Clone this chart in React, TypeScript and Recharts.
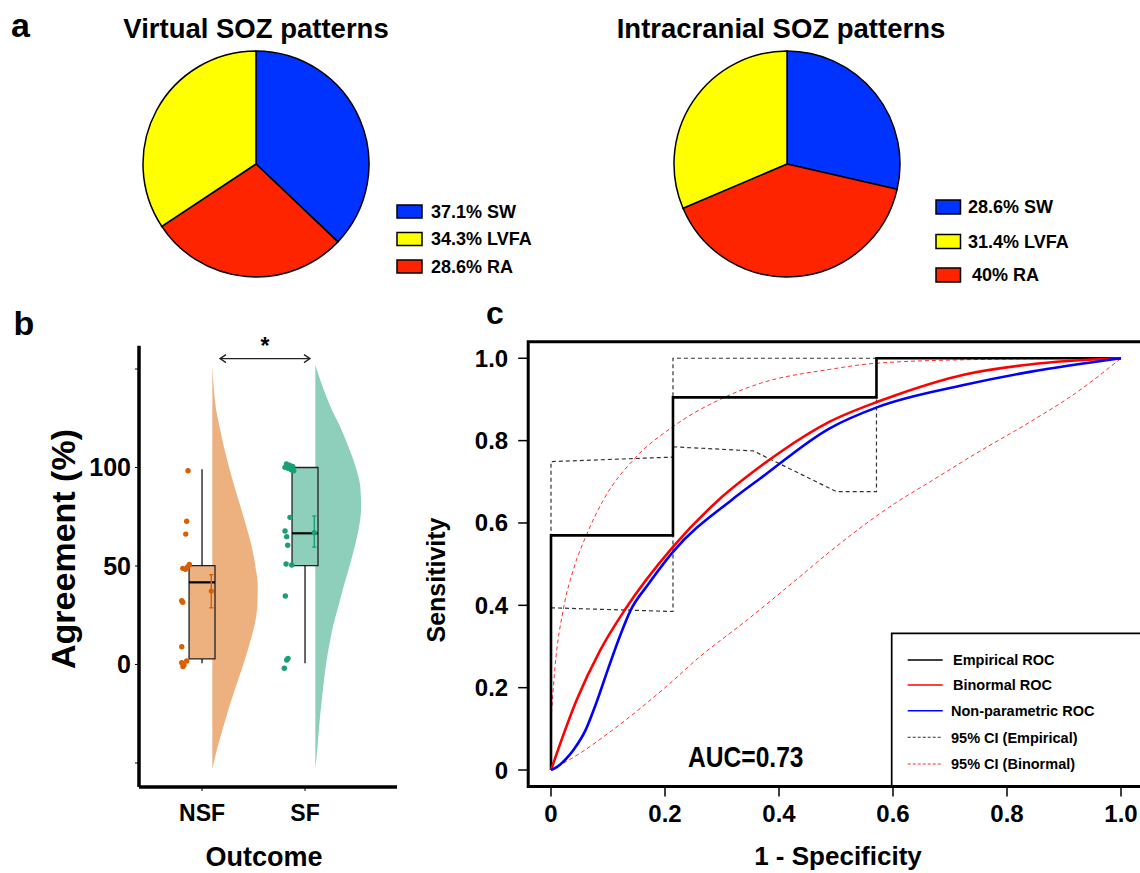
import React from "react";
import {
  PieChart,
  Pie,
  Cell,
  ComposedChart,
  Area,
  Scatter,
  XAxis,
  YAxis,
  ReferenceArea,
  ReferenceLine,
  ReferenceDot,
  LineChart,
  Line,
} from "recharts";

const FONT = "'Liberation Sans', Arial, Helvetica, sans-serif";

// ---------- panel a : SOZ pattern shares (%)
const patternNames = ["SW", "LVFA", "RA"];
const patternColors = ["#0033FF", "#FFFF00", "#FF2400"];
const virtualShares = [37.1, 34.3, 28.6];
const intracranialShares = [28.6, 31.4, 40];
const virtualLabels = ["37.1% SW", "34.3% LVFA", "28.6% RA"];
const intracranialLabels = ["28.6% SW", "31.4% LVFA", "40% RA"];
// clockwise from 12 o'clock: SW, RA, LVFA
const sliceOrder = [0, 2, 1];

// ---------- panel b : agreement (%) by outcome
const outcomeGroups = ["NSF", "SF"];
const nsfAgreement = [98.4, 72.7, 66.2, 50.8, 49.5, 48.8, 48.3, 32.4, 31.6, 9.0, 1.8, 0.9, -0.3, -1.0];
const nsfJitter = [-0.136, -0.149, -0.158, -0.123, -0.14, -0.187, -0.16, -0.197, -0.187, -0.197, -0.149, -0.197, -0.175, -0.185];
const sfAgreement = [101.8, 101.2, 100.6, 100.1, 99.6, 98.9, 98.4, 74.7, 67.8, 64.9, 60.5, 51, 50.5, 34.8, 3.1, 2.3, -1.9];
const sfJitter = [-0.18, -0.15, -0.12, -0.195, -0.165, -0.135, -0.11, -0.146, -0.194, -0.178, -0.168, -0.184, -0.129, -0.191, -0.165, -0.178, -0.201];

const boxMin = [0.6, 0.6];
const boxQ1 = [2.8, 50.2];
const boxMedian = [41.7, 66.6];
const boxQ3 = [50.2, 100];
const boxMax = [99.1, 100];
const groupMean = [37.3, 66.9];
const meanLow = [28.8, 59.6];
const meanHigh = [45.6, 75.4];

// half-violin density profile
const violinLevels = [152, 140, 130, 120, 110, 100, 90, 80, 70, 60, 50, 40, 30, 20, 10, 0, -10, -20, -30, -40, -53];
const nsfDensity = [0, 1.5, 3.6, 7.5, 11.8, 16.8, 22.3, 28.3, 34, 39.3, 43, 45.4, 45, 42.2, 37, 31, 24.3, 17.8, 12, 6.3, 0];
const sfDensity = [0, 8, 16, 25.5, 33.5, 40.5, 45, 45.8, 43.8, 39.5, 34.3, 28.5, 23.3, 18, 14, 10.7, 8.2, 6, 4.1, 2.5, 0];

const groupColors = ["#D95F02", "#1B9E77"];
const groupFills = ["#EDB07F", "#8DCFBA"];

// ---------- panel c : ROC curves  [1 - specificity, sensitivity]
const empiricalRoc = [[0, 0], [0, 0.57], [0.214, 0.57], [0.214, 0.905], [0.571, 0.905], [0.571, 1], [1, 1]];
const binormalRoc = [[0, 0], [0.045, 0.17], [0.086, 0.29], [0.13, 0.39], [0.214, 0.542], [0.294, 0.656], [0.367, 0.737], [0.4, 0.77], [0.489, 0.846], [0.574, 0.895], [0.606, 0.911], [0.724, 0.96], [0.84, 0.985], [1, 1]];
const nonParamRoc = [[0, 0], [0.01, 0.007], [0.025, 0.025], [0.04, 0.05], [0.06, 0.095], [0.08, 0.165], [0.1, 0.245], [0.12, 0.322], [0.14, 0.389], [0.17, 0.45], [0.214, 0.53], [0.317, 0.656], [0.367, 0.708], [0.489, 0.83], [0.574, 0.882], [0.724, 0.935], [0.84, 0.967], [1, 1]];
const ciEmpiricalLower = [[0, 0.394], [0.214, 0.385], [0.214, 0.785], [0.355, 0.775], [0.501, 0.676], [0.571, 0.676], [0.571, 1], [1, 1]];
const ciEmpiricalUpper = [[0, 0.394], [0, 0.749], [0.214, 0.76], [0.214, 1], [1, 1]];
const ciBinormalUpper = [[0, 0.121], [0.007, 0.25], [0.0216, 0.39], [0.04, 0.49], [0.0626, 0.572], [0.092, 0.656], [0.147, 0.757], [0.214, 0.834], [0.304, 0.905], [0.367, 0.939], [0.489, 0.973], [0.571, 0.988], [0.75, 0.997], [1, 1]];
const ciBinormalLower = [[0, 0], [0.05, 0.04], [0.106, 0.095], [0.2, 0.2], [0.261, 0.275], [0.34, 0.36], [0.437, 0.47], [0.489, 0.53], [0.606, 0.65], [0.665, 0.7], [0.747, 0.77], [0.84, 0.845], [0.92, 0.915], [1, 1]];
const rocTicks = [0, 0.2, 0.4, 0.6, 0.8, 1.0];
const rocLegend = ["Empirical ROC", "Binormal ROC", "Non-parametric ROC", "95% CI (Empirical)", "95% CI (Binormal)"];
const rocLegendColors = ["#000000", "#FF0000", "#0000FF", "#333333", "#FF3030"];
const aucText = "AUC=0.73";

const toPts = (arr: number[][]) => arr.map(([x, y]) => ({ x, y }));

const SozPie = ({ shares, cx, cy }: { shares: number[]; cx: number; cy: number }) => (
  <div style={{ position: "absolute", left: cx - 116, top: cy - 116 }}>
    <PieChart width={232} height={232} margin={{ top: 0, right: 0, bottom: 0, left: 0 }}>
      <Pie
        data={sliceOrder.map((i) => ({ name: patternNames[i], value: shares[i] }))}
        dataKey="value"
        cx="50%"
        cy="50%"
        outerRadius={113}
        startAngle={90}
        endAngle={-270}
        stroke="#000"
        strokeWidth={1.5}
        isAnimationActive={false}
      >
        {sliceOrder.map((i) => (
          <Cell key={i} fill={patternColors[i]} />
        ))}
      </Pie>
    </PieChart>
  </div>
);

const AgreementPanel = () => {
  const densityToX = 1 / 103;
  const violinGap = 0.1;
  const boxHalf = 0.126;
  const meanShift = 0.09;
  const cap = 0.02;
  const violinRows = violinLevels.map((v, i) => ({
    v,
    nsf: 1 + violinGap + nsfDensity[i] * densityToX,
    sf: 2 + violinGap + sfDensity[i] * densityToX,
  }));
  const dots = [
    nsfAgreement.map((v, i) => ({ x: 1 + nsfJitter[i], v })),
    sfAgreement.map((v, i) => ({ x: 2 + sfJitter[i], v })),
  ];
  const tickStyle = { fill: "#000", fontSize: 25, fontWeight: 700, fontFamily: FONT };
  return (
    <div style={{ position: "absolute", left: 0, top: 300 }}>
      <ComposedChart
        layout="vertical"
        width={420}
        height={573}
        data={violinRows}
        margin={{ top: 45.8, right: 23, bottom: 46, left: 59 }}
      >
        <XAxis
          type="number"
          dataKey="x"
          domain={[0.388, 2.893]}
          allowDataOverflow
          ticks={[1, 2]}
          tickFormatter={(v: number) => outcomeGroups[v - 1]}
          axisLine={{ stroke: "#000", strokeWidth: 3.5 }}
          tickLine={{ stroke: "#000" }}
          tickSize={4}
          tickMargin={14}
          height={40}
          tick={{ ...tickStyle, fontSize: 23 }}
        />
        <YAxis
          type="number"
          dataKey="v"
          reversed
          domain={[-62.2, 161.8]}
          allowDataOverflow
          ticks={[-50, 0, 50, 100, 150]}
          tickFormatter={(v: number) => ([0, 50, 100].includes(v) ? String(v) : "")}
          axisLine={{ stroke: "#000", strokeWidth: 3.5 }}
          tickLine={{ stroke: "#000" }}
          tickSize={4}
          tickMargin={4}
          width={80}
          tick={tickStyle}
        />
        <Area dataKey="nsf" type="monotone" baseValue={1 + violinGap} stroke="none" fill={groupFills[0]} fillOpacity={1} isAnimationActive={false} />
        <Area dataKey="sf" type="monotone" baseValue={2 + violinGap} stroke="none" fill={groupFills[1]} fillOpacity={1} isAnimationActive={false} />
        {[0, 1].map((g) => (
          <ReferenceLine key={`wu${g}`} segment={[{ x: g + 1, y: boxQ3[g] }, { x: g + 1, y: boxMax[g] }]} stroke="#000" strokeWidth={1.2} />
        ))}
        {[0, 1].map((g) => (
          <ReferenceLine key={`wl${g}`} segment={[{ x: g + 1, y: boxMin[g] }, { x: g + 1, y: boxQ1[g] }]} stroke="#000" strokeWidth={1.2} />
        ))}
        {[0, 1].map((g) => (
          <ReferenceArea
            key={`box${g}`}
            x1={g + 1 - boxHalf}
            x2={g + 1 + boxHalf}
            y1={boxQ1[g]}
            y2={boxQ3[g]}
            fill={groupFills[g]}
            fillOpacity={1}
            stroke="#222"
            strokeWidth={1.3}
          />
        ))}
        {[0, 1].map((g) => (
          <ReferenceLine key={`med${g}`} segment={[{ x: g + 1 - boxHalf, y: boxMedian[g] }, { x: g + 1 + boxHalf, y: boxMedian[g] }]} stroke="#000" strokeWidth={2.2} />
        ))}
        {[0, 1].map((g) => (
          <Scatter
            key={`dots${g}`}
            data={dots[g]}
            isAnimationActive={false}
            shape={(p: any) => <circle cx={p.cx} cy={p.cy} r={2.7} fill={groupColors[g]} />}
          />
        ))}
        {[0, 1].map((g) => (
          <ReferenceLine key={`eb${g}`} segment={[{ x: g + 1 + meanShift, y: meanLow[g] }, { x: g + 1 + meanShift, y: meanHigh[g] }]} stroke={groupColors[g]} strokeWidth={1.4} />
        ))}
        {[0, 1].map((g) => (
          <ReferenceLine key={`ebl${g}`} segment={[{ x: g + 1 + meanShift - cap, y: meanLow[g] }, { x: g + 1 + meanShift + cap, y: meanLow[g] }]} stroke={groupColors[g]} strokeWidth={1.4} />
        ))}
        {[0, 1].map((g) => (
          <ReferenceLine key={`ebh${g}`} segment={[{ x: g + 1 + meanShift - cap, y: meanHigh[g] }, { x: g + 1 + meanShift + cap, y: meanHigh[g] }]} stroke={groupColors[g]} strokeWidth={1.4} />
        ))}
        {[0, 1].map((g) => (
          <ReferenceDot key={`mean${g}`} x={g + 1 + meanShift} y={groupMean[g]} r={2.6} fill={groupColors[g]} stroke="none" />
        ))}
      </ComposedChart>
    </div>
  );
};

const RocPanel = () => {
  const tickStyle = { fill: "#000", fontSize: 24, fontWeight: 700, fontFamily: FONT };
  const fmt = (v: number) => (v === 0 ? "0" : v.toFixed(1));
  const dashed = "4 3";
  return (
    <div style={{ position: "absolute", left: 420, top: 300 }}>
      <LineChart width={740} height={573} margin={{ top: 41.8, right: 16.2, bottom: 46.5, left: 48.2 }}>
        <XAxis
          type="number"
          dataKey="x"
          domain={[-0.04, 1.04]}
          allowDataOverflow
          ticks={rocTicks}
          tickFormatter={fmt}
          axisLine={false}
          tickLine={{ stroke: "#000", strokeWidth: 1.5 }}
          tickSize={10}
          tickMargin={8}
          height={40}
          tick={tickStyle}
        />
        <YAxis
          type="number"
          dataKey="y"
          domain={[-0.04, 1.04]}
          allowDataOverflow
          ticks={rocTicks}
          tickFormatter={fmt}
          axisLine={false}
          tickLine={{ stroke: "#000", strokeWidth: 1.5 }}
          tickSize={10}
          tickMargin={10}
          width={60}
          tick={tickStyle}
        />
        <ReferenceArea x1={-0.04} x2={1.04} y1={-0.04} y2={1.04} fill="none" stroke="#000" strokeWidth={3} />
        <Line data={toPts(ciEmpiricalLower)} dataKey="y" type="linear" stroke={rocLegendColors[3]} strokeWidth={1.2} strokeDasharray={dashed} dot={false} activeDot={false} isAnimationActive={false} />
        <Line data={toPts(ciEmpiricalUpper)} dataKey="y" type="linear" stroke={rocLegendColors[3]} strokeWidth={1.2} strokeDasharray={dashed} dot={false} activeDot={false} isAnimationActive={false} />
        <Line data={toPts(ciBinormalUpper)} dataKey="y" type="monotone" stroke={rocLegendColors[4]} strokeWidth={1} strokeDasharray={dashed} dot={false} activeDot={false} isAnimationActive={false} />
        <Line data={toPts(ciBinormalLower)} dataKey="y" type="monotone" stroke={rocLegendColors[4]} strokeWidth={1} strokeDasharray={dashed} dot={false} activeDot={false} isAnimationActive={false} />
        <Line data={toPts(empiricalRoc)} dataKey="y" type="linear" stroke={rocLegendColors[0]} strokeWidth={2.6} dot={false} activeDot={false} isAnimationActive={false} />
        <Line data={toPts(binormalRoc)} dataKey="y" type="monotone" stroke={rocLegendColors[1]} strokeWidth={2.6} dot={false} activeDot={false} isAnimationActive={false} />
        <Line data={toPts(nonParamRoc)} dataKey="y" type="monotone" stroke={rocLegendColors[2]} strokeWidth={2.6} dot={false} activeDot={false} isAnimationActive={false} />
      </LineChart>
    </div>
  );
};

const Overlay = () => {
  const t = { fontFamily: FONT, fontWeight: 700, fill: "#000" } as const;
  const legendRowsRoc = [660, 685, 710.7, 737.3, 764];
  const leftRows = [205, 232.5, 260];
  const rightRows = [200, 234.5, 268];
  return (
    <svg width={1140} height={873} style={{ position: "absolute", left: 0, top: 0, pointerEvents: "none" }}>
      {/* panel letters */}
      <text x={11} y={36.7} fontSize={34} {...t}>a</text>
      <text x={13.6} y={335} fontSize={34} {...t}>b</text>
      <text x={486} y={324} fontSize={32} {...t}>c</text>

      {/* pie titles */}
      <text x={256} y={37.7} fontSize={27.5} textAnchor="middle" {...t}>Virtual SOZ patterns</text>
      <text x={781} y={37.7} fontSize={27.5} textAnchor="middle" {...t}>Intracranial SOZ patterns</text>

      {/* pie legends */}
      {virtualLabels.map((lab, i) => (
        <g key={`vl${i}`}>
          <rect x={397} y={leftRows[i]} width={25} height={13} fill={patternColors[i]} stroke="#000" strokeWidth={1.5} />
          <text x={431} y={leftRows[i] + 12.5} fontSize={18} {...t}>{lab}</text>
        </g>
      ))}
      {intracranialLabels.map((lab, i) => (
        <g key={`il${i}`}>
          <rect x={936} y={rightRows[i]} width={24.5} height={14} fill={patternColors[i]} stroke="#000" strokeWidth={1.5} />
          <text x={i === 2 ? 972 : 968} y={rightRows[i] + 13.3} fontSize={18} {...t}>{lab}</text>
        </g>
      ))}

      {/* panel b labels */}
      <text transform="translate(75,549) rotate(-90)" fontSize={34} textAnchor="middle" {...t}>Agreement (%)</text>
      <text x={264} y={866} fontSize={27} textAnchor="middle" {...t}>Outcome</text>
      <text x={265} y={353.5} fontSize={23} textAnchor="middle" {...t}>*</text>
      <g stroke="#222" strokeWidth={1.3} fill="none">
        <line x1={220} y1={358.6} x2={310} y2={358.6} />
        <polyline points="226,354.6 220,358.6 226,362.6" />
        <polyline points="304,354.6 310,358.6 304,362.6" />
      </g>

      {/* panel c labels */}
      <text transform="translate(444.7,580) rotate(-90)" fontSize={25} textAnchor="middle" {...t}>Sensitivity</text>
      <text x={838} y={865} fontSize={26} textAnchor="middle" {...t}>1 - Specificity</text>
      <text transform="translate(688,767) scale(0.82,1)" fontSize={30} {...t}>{aucText}</text>

      {/* ROC legend */}
      <path d="M891.7,787 L891.7,633.3 L1141,633.3" fill="none" stroke="#000" strokeWidth={1.7} />
      {rocLegend.map((lab, i) => (
        <g key={`rl${i}`}>
          <line
            x1={907.7}
            x2={942.7}
            y1={legendRowsRoc[i]}
            y2={legendRowsRoc[i]}
            stroke={rocLegendColors[i]}
            strokeWidth={i < 3 ? 1.5 : 1.1}
            strokeDasharray={i < 3 ? undefined : "3 2"}
          />
          <text x={i < 2 ? 953 : 951} y={legendRowsRoc[i] + 5.2} fontSize={14.5} {...t}>{lab}</text>
        </g>
      ))}
    </svg>
  );
};

export default function App() {
  return (
    <div
      style={{
        position: "absolute",
        left: 0,
        top: 0,
        width: 1140,
        height: 873,
        overflow: "hidden",
        background: "#fff",
        fontFamily: FONT,
      }}
    >
      <SozPie shares={virtualShares} cx={256} cy={164} />
      <SozPie shares={intracranialShares} cx={787} cy={164} />
      <AgreementPanel />
      <RocPanel />
      <Overlay />
    </div>
  );
}
